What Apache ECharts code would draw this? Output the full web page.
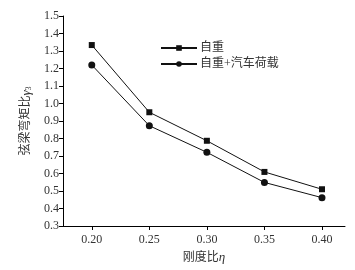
<!DOCTYPE html>
<html>
<head>
<meta charset="utf-8">
<script src="https://cdn.jsdelivr.net/npm/echarts@6/dist/echarts.min.js"></script>
<style>
  html, body { margin: 0; padding: 0; background: #fff; }
  #chart { width: 355px; height: 270px; }
</style>
</head>
<body>
<div id="chart"></div>
<script>
// data
const etaValues = [0.20, 0.25, 0.30, 0.35, 0.40]
const selfWeight = [1.334, 0.950, 0.787, 0.609, 0.510]
const selfWeightCar = [1.220, 0.873, 0.721, 0.549, 0.462]
const seriesNames = ['自重', '自重+汽车荷载']

const font = '"Liberation Serif", "Noto Sans CJK SC", serif'
const txt = '#333'

const pairs = (ys) => etaValues.map((x, i) => [x, ys[i]])

const chart = echarts.init(document.getElementById('chart'))
chart.setOption({
  animation: false,
  grid: { left: 63, top: 16, right: 10, bottom: 44 },
  legend: {
    orient: 'vertical',
    left: 155,
    top: 37,
    itemWidth: 36,
    itemHeight: 7,
    itemGap: 4,
    textStyle: { fontFamily: font, fontSize: 12, color: txt, padding: [0, 0, 0, -2] },
    data: seriesNames,
  },
  xAxis: {
    type: 'value',
    min: 0.175,
    max: 0.42,
    name: '{a|刚度比}{g|η}',
    nameLocation: 'middle',
    nameGap: 22,
    nameTextStyle: {
      fontFamily: font, fontSize: 12, color: txt,
      rich: {
        a: { fontFamily: font, fontSize: 12, color: txt },
        g: { fontFamily: font, fontSize: 13, color: txt, fontStyle: 'italic' },
      },
    },
    axisLine: { onZero: false, lineStyle: { color: '#000' } },
    axisTick: { show: true, length: 4, lineStyle: { color: '#000' }, customValues: etaValues },
    axisLabel: {
      fontFamily: font, fontSize: 12, color: txt, margin: 8,
      customValues: etaValues,
      formatter: v => v.toFixed(2),
    },
    splitLine: { show: false },
  },
  yAxis: {
    type: 'value',
    min: 0.3,
    max: 1.5,
    interval: 0.1,
    name: '{a|弦梁弯矩比}{g|γ}{s|3}',
    nameLocation: 'middle',
    nameGap: 29,
    nameTextStyle: {
      fontFamily: font, fontSize: 12, color: txt,
      rich: {
        a: { fontFamily: font, fontSize: 12, color: txt },
        g: { fontFamily: font, fontSize: 13, color: txt, fontStyle: 'italic' },
        s: { fontFamily: font, fontSize: 8, color: txt, padding: [6, 0, 0, 0] },
      },
    },
    axisLine: { show: true, lineStyle: { color: '#000' } },
    axisTick: { show: true, length: 4, lineStyle: { color: '#000' } },
    axisLabel: { fontFamily: font, fontSize: 12, color: txt, margin: 4, formatter: v => v.toFixed(1) },
    splitLine: { show: false },
  },
  series: [
    {
      name: seriesNames[0],
      type: 'line',
      data: pairs(selfWeight),
      symbol: 'rect',
      symbolSize: 6,
      lineStyle: { color: '#111', width: 1 },
      itemStyle: { color: '#111' },
    },
    {
      name: seriesNames[1],
      type: 'line',
      data: pairs(selfWeightCar),
      symbol: 'circle',
      symbolSize: 7,
      lineStyle: { color: '#111', width: 1 },
      itemStyle: { color: '#111' },
    },
  ],
})
</script>
</body>
</html>
